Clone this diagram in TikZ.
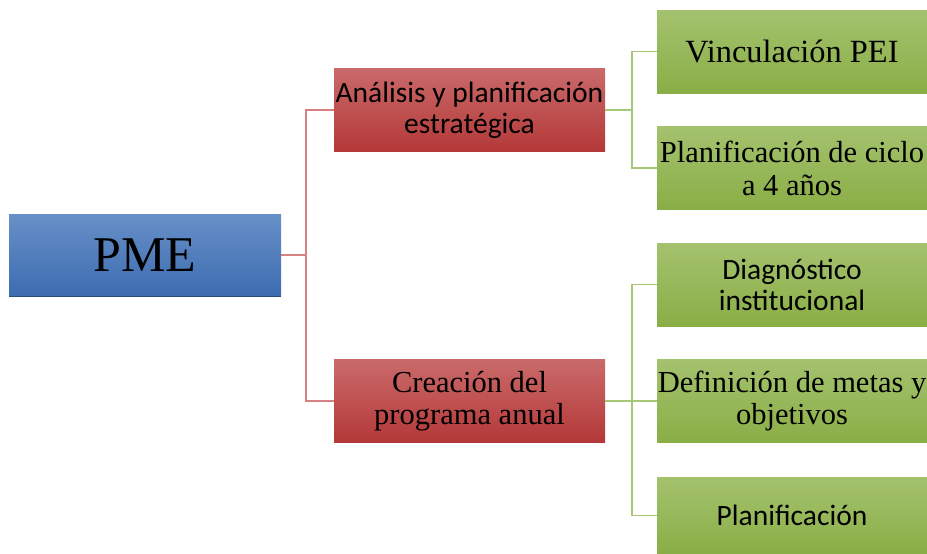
\documentclass[tikz,border=0pt]{standalone}
\usepackage{fontspec}
\setmainfont{Liberation Serif}
\newfontfamily\calib{Carlito}
\usepackage{tikz}
\definecolor{boxblueT}{RGB}{104, 144, 200}
\definecolor{boxblueB}{RGB}{60, 108, 176}
\definecolor{boxredT}{RGB}{202, 106, 106}
\definecolor{boxredB}{RGB}{180, 56, 56}
\definecolor{boxgreenT}{RGB}{164, 194, 110}
\definecolor{boxgreenB}{RGB}{138, 174, 70}
\definecolor{linered}{RGB}{214, 130, 130}
\definecolor{linegreen}{RGB}{166, 198, 120}
\tikzset{
  pmebox/.style={minimum width=272pt, minimum height=82pt, inner sep=0pt,
    top color=boxblueT, bottom color=boxblueB, align=center},
  redbox/.style={minimum width=271pt, minimum height=83pt, inner sep=0pt,
    top color=boxredT, bottom color=boxredB, align=center},
  greenbox/.style={minimum width=270pt, minimum height=83pt, inner sep=0pt,
    top color=boxgreenT, bottom color=boxgreenB, align=center},
  serifbig/.style={font=\fontsize{30.5}{32}\selectfont},
  sansbig/.style={font=\calib\fontsize{29.5}{31}\selectfont},
  redline/.style={draw=linered, line width=1.6pt},
  greenline/.style={draw=linegreen, line width=1.6pt}
}
\begin{document}
\begin{tikzpicture}[x=1pt, y=-1pt]
            \useasboundingbox (0,0) rectangle (927,554);
            % main box
            \node[pmebox, font=\fontsize{50}{56}\selectfont] (pme) at (145,255) {PME};
            \draw[boxblueB!70!black, line width=1pt] (pme.south west) -- (pme.south east);
            % second level
            \node[redbox, sansbig] (analisis) at (469.5,110) {An\'alisis y planificaci\'on\\estrat\'egica};
            \node[redbox, serifbig] (creacion) at (469.5,401) {Creaci\'on del\\programa anual};
            % third level
            \node[greenbox, font=\fontsize{32.4}{34}\selectfont] (vinc) at (792,51.5) {Vinculaci\'on PEI};
            \node[greenbox, font=\fontsize{30.5}{33}\selectfont] (ciclo) at (792,168) {Planificaci\'on de ciclo\\a 4 a\~nos};
            \node[greenbox, sansbig] (diag) at (792,284.5) {Diagn\'ostico\\institucional};
            \node[greenbox, serifbig] (metas) at (792,401) {Definici\'on de metas y\\objetivos};
            \node[greenbox, sansbig, minimum height=77pt] (plan) at (792,515.5) {Planificaci\'on};
            % connectors
            \coordinate (rj) at (306,255);
            \draw[redline] (pme.east) -- (rj);
            \draw[redline] (rj) |- (analisis.west);
            \draw[redline] (rj) |- (creacion.west);
            \coordinate (gja) at (632,110);
            \draw[greenline] (analisis.east) -- (gja);
            \draw[greenline] (gja) |- (vinc.west);
            \draw[greenline] (gja) |- (ciclo.west);
            \coordinate (gjb) at (632,401);
            \draw[greenline] (creacion.east) -- (gjb);
            \draw[greenline] (gjb) |- (diag.west);
            \draw[greenline] (gjb) |- (metas.west);
            \draw[greenline] (gjb) |- (plan.west);
        \end{tikzpicture}
\end{document}
